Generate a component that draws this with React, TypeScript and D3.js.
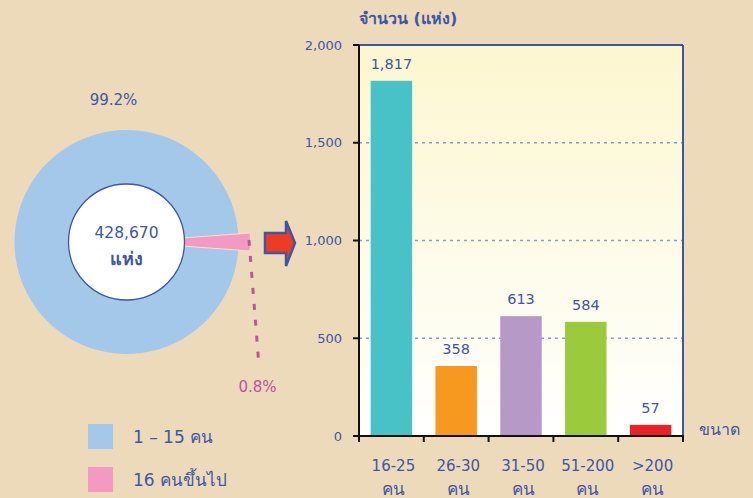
import React from "react";
import * as d3 from "d3";

// ---------- data ----------
const pieLabels = ["1 – 15 คน", "16 คนขึ้นไป"];
const pieValues = [99.2, 0.8];
const pieColors = ["#A3C8EA", "#F49AC2"];
const totalLabel = "428,670";
const totalUnit = "แห่ง";

const barCategories = ["16-25", "26-30", "31-50", "51-200", ">200"];
const barValues = [1817, 358, 613, 584, 57];
const barColors = ["#48C2C6", "#F7981F", "#B799C8", "#9BCA3C", "#ED2027"];
const yTicks = [0, 500, 1000, 1500, 2000];
const unitLabel = "คน";
const yTitle = "จำนวน (แห่ง)";
const xTitle = "ขนาด";

// ---------- styles ----------
const W = 753;
const H = 498;
const BG = "#EDDABA";
const BLUE = "#3D56A5";
const MAGENTA = "#C0529F";
const FONT = "Tahoma, 'DejaVu Sans', 'Noto Sans', sans-serif";

export default function App() {
  // ----- donut -----
  const cx = 126.5;
  const cy = 242;
  const rOuter = 112;
  const rInner = 58;
  const pie = d3
    .pie<number>()
    .sort(null)
    .startAngle(Math.PI / 2 + (pieValues[1] / 100) * Math.PI)
    .endAngle(Math.PI / 2 + (pieValues[1] / 100) * Math.PI + 2 * Math.PI);
  const arcsData = pie(pieValues);
  const arcMain = d3.arc<d3.PieArcDatum<number>>().innerRadius(rInner).outerRadius(rOuter);
  // small slice is drawn exploded and widened so that it stays visible
  const small = arcsData[1];
  const mid = (small.startAngle + small.endAngle) / 2;
  const minAngle = 0.145;
  const half = Math.max(small.endAngle - small.startAngle, minAngle) / 2;
  const smallPath = d3.arc()({
    innerRadius: rInner,
    outerRadius: 124,
    startAngle: mid - half,
    endAngle: mid + half,
  } as any) as string;

  // ----- bars -----
  const x0 = 359;
  const x1 = 683;
  const yTop = 45;
  const yBot = 436;
  const x = d3.scaleBand<string>().domain(barCategories).range([x0, x1]).paddingInner(0.36).paddingOuter(0.18);
  const y = d3.scaleLinear().domain([0, 2000]).range([yBot, yTop]);
  const fmt = d3.format(",");
  const bounds = d3.range(barCategories.length + 1).map((i) => x0 + i * x.step());

  return (
    <svg
      width={W}
      height={H}
      style={{ position: "absolute", left: 0, top: 0, display: "block" }}
      fontFamily={FONT}
    >
      <defs>
        <linearGradient id="plotbg" x1="0" y1="0" x2="0" y2="1">
          <stop offset="0" stopColor="#FCF7CF" />
          <stop offset="1" stopColor="#FFFFFF" />
        </linearGradient>
      </defs>
      <rect width={W} height={H} fill={BG} />

      {/* donut */}
      <g transform={`translate(${cx},${cy})`}>
        <path d={arcMain(arcsData[0]) as string} fill={pieColors[0]} />
        <path d={smallPath} fill={pieColors[1]} stroke="#F6E3CC" strokeWidth={1} />
        <circle r={rInner} fill="#FFFFFF" stroke={BLUE} strokeWidth={1.3} />
        <text y={-4} textAnchor="middle" fontSize={15.5} fill={BLUE}>
          {totalLabel}
        </text>
        <text y={23} textAnchor="middle" fontSize={18} fontWeight="600" fill={BLUE}>
          {totalUnit}
        </text>
      </g>
      <text x={113.5} y={105} textAnchor="middle" fontSize={15} fill={BLUE}>
        {pieValues[0].toFixed(1)}%
      </text>
      <line x1={249} y1={240} x2={259} y2={366} stroke={MAGENTA} strokeWidth={3} strokeDasharray="6,10" />
      <text x={257.5} y={392} textAnchor="middle" fontSize={15} fill={MAGENTA}>
        {pieValues[1].toFixed(1)}%
      </text>

      {/* arrow */}
      <path
        d="M265,233 L286,233 L286,221 L295,243 L286,266 L286,253 L265,253 Z"
        fill="#EE3B24"
        stroke={BLUE}
        strokeWidth={2.5}
        strokeLinejoin="miter"
      />

      {/* legend */}
      {pieLabels.map((l, i) => (
        <g key={l} transform={`translate(88,${424 + i * 43})`}>
          <rect width={25} height={25} fill={pieColors[i]} />
          <text x={45} y={19} fontSize={17} fill={BLUE}>
            {l}
          </text>
        </g>
      ))}

      {/* bar chart */}
      <rect x={x0} y={yTop} width={x1 - x0} height={yBot - yTop} fill="url(#plotbg)" />
      {yTicks
        .filter((t) => t > 0 && t < 2000)
        .map((t) => (
          <line key={t} x1={x0} x2={x1} y1={y(t)} y2={y(t)} stroke="#8C9AC8" strokeWidth={1.5} strokeDasharray="3,4" />
        ))}
      {barCategories.map((c, i) => (
        <g key={c}>
          <rect
            x={x(c)}
            y={y(barValues[i])}
            width={x.bandwidth()}
            height={yBot - y(barValues[i])}
            fill={barColors[i]}
          />
          <text
            x={(x(c) as number) + x.bandwidth() / 2}
            y={y(barValues[i]) - 12}
            textAnchor="middle"
            fontSize={14.5}
            fill={BLUE}
          >
            {fmt(barValues[i])}
          </text>
          <text x={(x(c) as number) + x.bandwidth() / 2 + 2} y={471} textAnchor="middle" fontSize={15} fill={BLUE}>
            {c}
          </text>
          <text x={(x(c) as number) + x.bandwidth() / 2 + 2} y={495} textAnchor="middle" fontSize={17} fill={BLUE}>
            {unitLabel}
          </text>
        </g>
      ))}
      {/* frame */}
      <line x1={x0} x2={x1} y1={yTop} y2={yTop} stroke={BLUE} strokeWidth={2} />
      <line x1={x1} x2={x1} y1={yTop} y2={yBot} stroke={BLUE} strokeWidth={2} />
      <line x1={x0} x2={x0} y1={yTop} y2={yBot + 1} stroke="#111" strokeWidth={2} />
      <line x1={x0 - 1} x2={x1 + 1} y1={yBot} y2={yBot} stroke="#111" strokeWidth={2} />
      {bounds.map((b, i) => (
        <line key={i} x1={b} x2={b} y1={yBot} y2={yBot + 6} stroke="#111" strokeWidth={2} />
      ))}
      {yTicks.map((t) => (
        <g key={t}>
          <line x1={x0 - 6} x2={x0} y1={y(t)} y2={y(t)} stroke="#111" strokeWidth={2} />
          <text x={342} y={y(t) + 4.5} textAnchor="end" fontSize={13} fill={BLUE}>
            {fmt(t)}
          </text>
        </g>
      ))}
      <text x={359} y={24} fontSize={16} fontWeight="600" fill={BLUE}>
        {yTitle}
      </text>
      <text x={699} y={435} fontSize={16} fill={BLUE}>
        {xTitle}
      </text>
    </svg>
  );
}
